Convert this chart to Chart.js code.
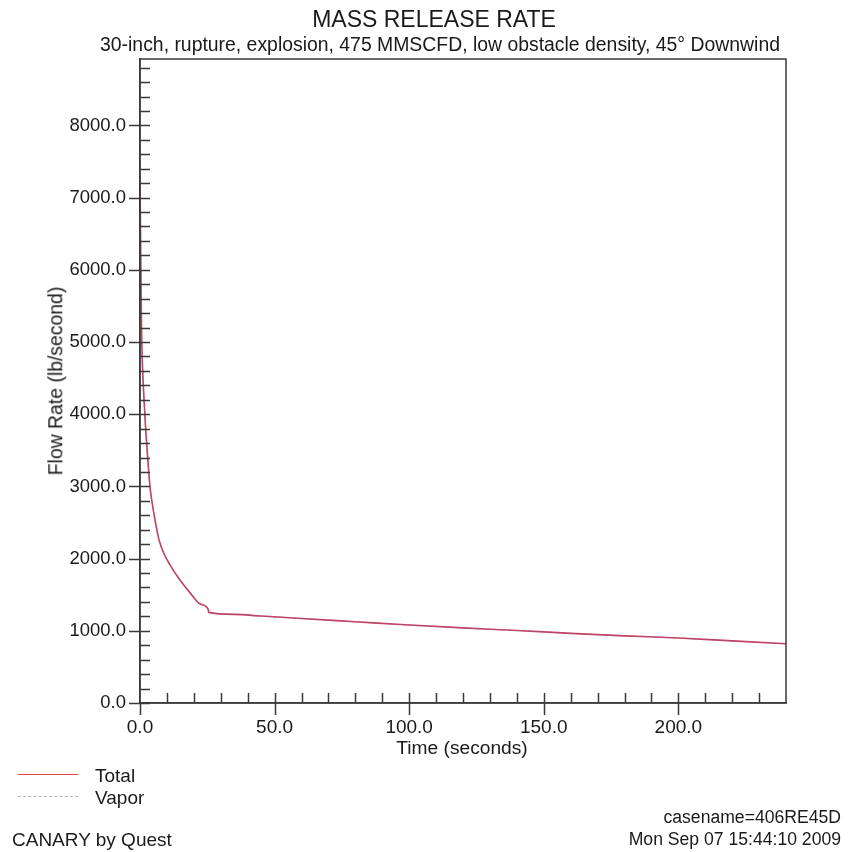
<!DOCTYPE html>
<html>
<head>
<meta charset="utf-8">
<script src="https://cdn.jsdelivr.net/npm/chart.js@4/dist/chart.umd.min.js"></script>
<style>
  html,body{margin:0;padding:0;background:#fff;}
  body{width:859px;height:852px;position:relative;overflow:hidden;font-family:'Liberation Sans',Arial,sans-serif;color:#1a1a1a;}
  #c{position:absolute;left:0;top:0;}
  .t{position:absolute;white-space:nowrap;line-height:1;}
  .ctr{transform:translateX(-50%);}
  .rgt{transform:translateX(-100%);}
  .leg{position:absolute;width:60px;height:0;}
</style>
</head>
<body>
<canvas id="c" width="859" height="852"></canvas>

<div class="t ctr" style="left:434px;top:8px;font-size:23px;">MASS RELEASE RATE</div>
<div class="t ctr" style="left:440px;top:35px;font-size:19.4px;">30-inch, rupture, explosion, 475 MMSCFD, low obstacle density, 45° Downwind</div>
<div class="t ctr" style="left:462px;top:738px;font-size:19.2px;">Time (seconds)</div>
<div class="t" style="left:56px;top:381px;font-size:19.4px;transform:translate(-50%,-50%) rotate(-90deg);">Flow Rate (lb/second)</div>

<div class="leg" style="left:18px;top:774px;border-top:1.5px solid #e04848;"></div>
<div class="t" style="left:95px;top:766px;font-size:19px;">Total</div>
<div class="leg" style="left:18px;top:796px;border-top:1px dashed #b4b8dc;"></div>
<div class="t" style="left:95px;top:788px;font-size:19px;">Vapor</div>

<div class="t rgt" style="left:841px;top:809px;font-size:17.6px;">casename=406RE45D</div>
<div class="t rgt" style="left:841px;top:831px;font-size:17.6px;">Mon Sep 07 15:44:10 2009</div>
<div class="t" style="left:12px;top:830px;font-size:19px;">CANARY by Quest</div>

<script>
// time (s) and release rate (lb/s)
const timeSec=[0,0.3,0.6,1.0,1.5,2.1,3.0,3.7,4.4,5.6,7.1,9.0,11.2,14.5,18.7,22.4,25.3,25.5,35,45,60,80,100,120,140,160,180,200,220,240];
const totalRate=[7300,6100,5100,4600,4200,3800,3330,3000,2800,2530,2256,2060,1910,1720,1522,1370,1300,1255,1228,1204,1170,1125,1080,1040,1005,965,930,900,860,820];
const vaporRate=[7300,6100,5100,4600,4200,3800,3330,3000,2800,2530,2256,2060,1910,1720,1522,1370,1300,1255,1228,1204,1170,1125,1080,1040,1005,965,930,900,860,820];

// labelled ticks
const xTicks=[0,50,100,150,200];
const yTicks=[0,1000,2000,3000,4000,5000,6000,7000,8000];

const xMin=0,xMax=240,xMinor=10;
const yMin=0,yMax=8920,yMinor=200;

const AXIS='#3a3a3a';
const FONT="'Liberation Sans', Arial, sans-serif";

const pts=(xs,ys)=>xs.map((x,i)=>({x,y:ys[i]}));

// tick marks drawn inside the frame, labelled ones crossing the axis
const frameTicks={
  id:'frameTicks',
  afterDraw(chart){
    const {ctx,chartArea:a,scales:{x,y}}=chart;
    ctx.save();
    ctx.strokeStyle=AXIS;ctx.lineWidth=1.5;
    ctx.strokeRect(a.left,a.top,a.right-a.left,a.bottom-a.top);
    ctx.beginPath();
    for(let v=yMin;v<=yMax;v+=yMinor){
      const py=Math.round(y.getPixelForValue(v))+0.5;
      const major=yTicks.includes(v);
      ctx.moveTo(a.left-(major?11:0),py);ctx.lineTo(a.left+10,py);
    }
    for(let v=xMin;v<xMax;v+=xMinor){
      const px=Math.round(x.getPixelForValue(v))+0.5;
      const major=xTicks.includes(v);
      ctx.moveTo(px,a.bottom+(major?12:0));ctx.lineTo(px,a.bottom-(v===xMin?0:10));
    }
    ctx.stroke();
    ctx.restore();
  }
};

new Chart(document.getElementById('c'),{
  type:'line',
  data:{datasets:[
    {label:'Total',data:pts(timeSec,totalRate),borderColor:'#d43c50',borderWidth:1.6,pointRadius:0,cubicInterpolationMode:'monotone',order:2},
    {label:'Vapor',data:pts(timeSec,vaporRate),borderColor:'rgba(110,100,190,0.6)',borderWidth:1,borderDash:[3,2],pointRadius:0,cubicInterpolationMode:'monotone',order:1}
  ]},
  options:{
    responsive:false,animation:false,
    layout:{padding:{left:0,top:59,right:73,bottom:0}},
    plugins:{legend:{display:false},tooltip:{enabled:false}},
    scales:{
      x:{type:'linear',min:xMin,max:xMax,
        afterBuildTicks:s=>{s.ticks=xTicks.map(v=>({value:v}));},
        afterFit:s=>{s.height=149;},
        ticks:{padding:5,autoSkip:false,color:'#1a1a1a',font:{family:FONT,size:19},callback:v=>v.toFixed(1),maxRotation:0},
        grid:{display:false},border:{display:true,color:AXIS,width:1.5}},
      y:{type:'linear',min:yMin,max:yMax,
        afterBuildTicks:s=>{s.ticks=yTicks.map(v=>({value:v}));},
        afterFit:s=>{s.width=140;},
        ticks:{padding:14,autoSkip:false,color:'#1a1a1a',font:{family:FONT,size:18.5},callback:v=>v.toFixed(1)},
        grid:{display:false,drawTicks:false,tickLength:0},border:{display:true,color:AXIS,width:1.5}}
    }
  },
  plugins:[frameTicks]
});
</script>
</body>
</html>
